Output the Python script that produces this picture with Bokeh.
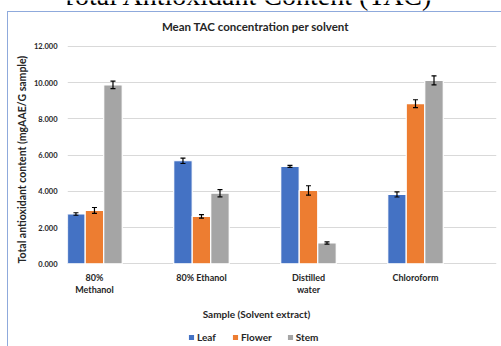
from bokeh.plotting import figure
from bokeh.models import (Range1d, FixedTicker, Legend, LegendItem, ColumnDataSource,
                          Whisker, TeeHead, NumeralTickFormatter, Title, Label)
from bokeh.core.properties import value
from bokeh.embed import file_html
from bokeh.resources import INLINE

# ---- data ----
solvents = ["80%\nMethanol", "80% Ethanol", "Distilled\nwater", "Chloroform"]
series = ["Leaf", "Flower", "Stem"]
leaf = [2.75, 5.69, 5.38, 3.83]
flower = [2.95, 2.62, 4.05, 8.84]
stem = [9.88, 3.90, 1.15, 10.13]
leaf_err = [0.07, 0.15, 0.06, 0.14]
flower_err = [0.16, 0.10, 0.26, 0.22]
stem_err = [0.21, 0.20, 0.06, 0.25]
y_ticks = [0, 2, 4, 6, 8, 10, 12]

top_title = "Total Antioxidant Content (TAC)"
chart_title = "Mean TAC concentration per solvent"
x_title = "Sample (Solvent extract)"
y_title = "Total antioxidant content (mgAAE/G sample)"

colors = ["#4472C4", "#ED7D31", "#A5A5A5"]
FONT = "Lato"
TXT = "#262626"
BORDER = "#8FAADC"

# frame spans the full height; y range chosen so that 0..12 sits where the reference plots it
p = figure(width=501, height=346, output_backend="svg", toolbar_location=None,
           x_range=Range1d(-0.252, 3.757), y_range=Range1d(-4.567, 14.54),
           x_axis_location=None,
           min_border_left=67, min_border_right=5, min_border_top=0, min_border_bottom=0)
p.outline_line_color = None
p.border_fill_color = None
p.background_fill_color = None
p.styles = {
    "background": (f"linear-gradient({BORDER}, {BORDER}) 7px 11px / 1px 335px no-repeat, "
                   f"linear-gradient({BORDER}, {BORDER}) 7px 11px / 494px 1px no-repeat, white"),
}

# y axis
p.yaxis.ticker = FixedTicker(ticks=y_ticks)
p.yaxis.formatter = NumeralTickFormatter(format="0.000")
p.yaxis.axis_line_color = None
p.yaxis.major_tick_line_color = None
p.yaxis.minor_tick_line_color = None
p.yaxis.major_tick_out = 0
p.yaxis.major_label_standoff = 10
p.yaxis.major_label_text_font = FONT
p.yaxis.major_label_text_font_style = "bold"
p.yaxis.major_label_text_font_size = "7.5px"
p.yaxis.major_label_text_color = TXT

ytitle = Title(text=y_title, align="left", offset=83, standoff=5,
               text_font=FONT, text_font_style="bold", text_font_size="10.5px", text_color=TXT)
p.add_layout(ytitle, "left")

p.xgrid.grid_line_color = None
p.ygrid.ticker = FixedTicker(ticks=y_ticks)
p.ygrid.grid_line_color = "#D9D9D9"
p.ygrid.grid_line_width = 1

# bars + error bars
values = [leaf, flower, stem]
errors = [leaf_err, flower_err, stem_err]
offsets = [-0.173, 0.0, 0.173]
renderers = []
for vals, errs, off, col in zip(values, errors, offsets, colors):
    xs = [i + off for i in range(len(solvents))]
    src = ColumnDataSource(dict(x=xs, top=vals,
                                lower=[v - e for v, e in zip(vals, errs)],
                                upper=[v + e for v, e in zip(vals, errs)]))
    r = p.vbar(x="x", top="top", width=0.173, source=src, fill_color=col,
               line_color="white", line_width=1.2)
    renderers.append(r)
    w = Whisker(source=src, base="x", lower="lower", upper="upper", dimension="height",
                line_color="black", line_width=1.2, level="annotation",
                upper_head=TeeHead(size=5, line_color="black", line_width=1.2),
                lower_head=TeeHead(size=5, line_color="black", line_width=1.2))
    p.add_layout(w)

# category labels under the bars, on the category positions
p.text(x=list(range(len(solvents))), y=[0] * len(solvents), text=solvents,
       y_offset=8, text_align="center", text_baseline="top",
       text_font=value(FONT), text_font_style="bold", text_font_size="9px",
       text_color=TXT, text_line_height=1.15)

# titles
p.add_layout(Label(x=1.505, y=13.1, text=chart_title, text_align="center",
                   text_baseline="middle", text_font=FONT, text_font_style="bold",
                   text_font_size="11.5px", text_color=TXT))
p.add_layout(Label(x=1.514, y=-2.745, text=x_title, text_align="center",
                   text_baseline="middle", text_font=FONT, text_font_style="bold",
                   text_font_size="10px", text_color=TXT))
p.add_layout(Label(x=1.42, y=13.94, text=top_title, text_align="center",
                   text_baseline="bottom", text_font="Liberation Serif",
                   text_font_size="28px", text_color="black"))

legend = Legend(items=[LegendItem(label=s, renderers=[r]) for s, r in zip(series, renderers)],
                orientation="horizontal", location=(120, 3),
                glyph_width=8, glyph_height=8, label_standoff=2, spacing=14,
                padding=0, margin=0, border_line_color=None, background_fill_alpha=0,
                label_text_font=FONT, label_text_font_style="bold",
                label_text_font_size="10px", label_text_color=TXT)
p.add_layout(legend, "center")

open("out.html", "w").write(file_html(p, INLINE))
